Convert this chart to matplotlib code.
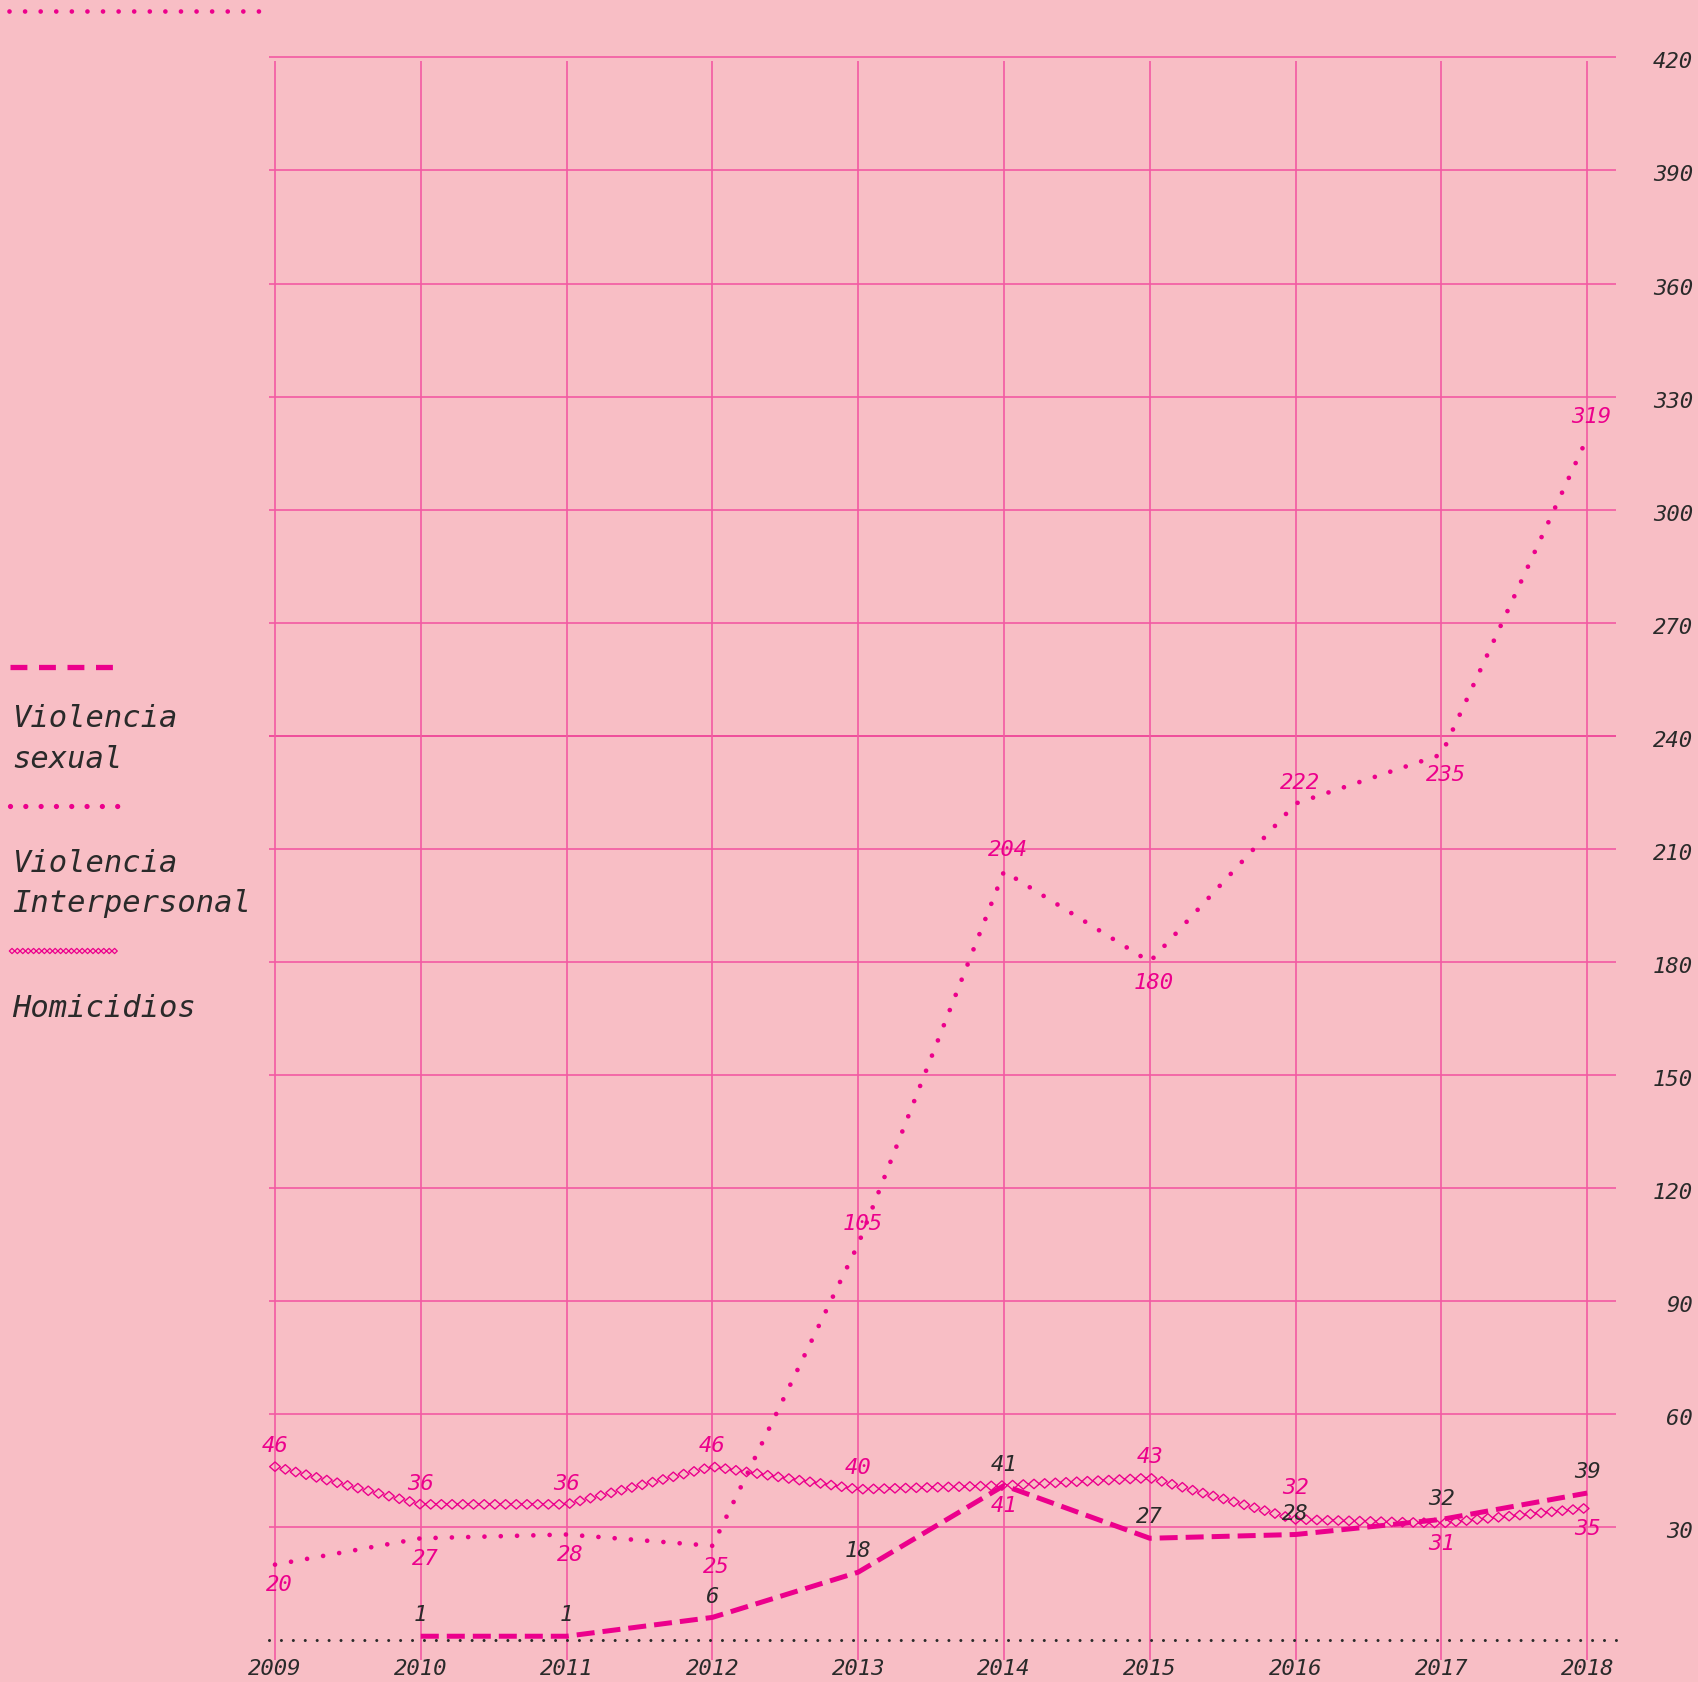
import numpy as np
import matplotlib
matplotlib.use("Agg")
import matplotlib.pyplot as plt
from matplotlib.patheffects import AbstractPathEffect
from matplotlib.path import Path
from matplotlib.transforms import IdentityTransform, blended_transform_factory, ScaledTranslation
from matplotlib.lines import Line2D

# ---------------- data ----------------
years = [2009, 2010, 2011, 2012, 2013, 2014, 2015, 2016, 2017, 2018]
homicidios = [46, 36, 36, 46, 40, 41, 43, 32, 31, 35]
interpersonal = [20, 27, 28, 25, 105, 204, 180, 222, 235, 319]
sexual_years = [2010, 2011, 2012, 2013, 2014, 2015, 2016, 2017, 2018]
sexual = [1, 1, 6, 18, 41, 27, 28, 32, 39]
y_ticks = [30, 60, 90, 120, 150, 180, 210, 240, 270, 300, 330, 360, 390, 420]
legend_labels = [["Violencia", "sexual"], ["Violencia", "Interpersonal"], ["Homicidios"]]

# label placement (sign: above/below, magnitude: distance factor)
hom_pos = [1, 1, 1, 1, 1, -1, 1, 1.5, -1, -1]
int_pos = [-1, -1, -1, -1, 1, 1, -1, 1, -1, 1]
sex_pos = [1, 1, 1, 1, 1, 1, 1, 1, 1]

# ---------------- style ----------------
BG = "#F8BEC5"
MAG = "#EC008C"
GRID = "#F25AA3"
GRID_DARK = "#EE3A94"
DARK = "#2A2A2A"
FONT = dict(family=["DejaVu Sans Mono"], style="italic")

W, H = 1698, 1682
X0, DX = 275.0, 145.8     # px of 2009, px per year
Y0, DY = 1640.0, 3.768    # px of value 0, px per unit


class DiamondChain(AbstractPathEffect):
    def __init__(self, spacing=10.7, half_h=4.7):
        super().__init__()
        self.spacing = spacing
        self.half_h = half_h

    def draw_path(self, renderer, gc, tpath, affine, rgbFace=None):
        v = affine.transform(tpath.vertices)
        seg = np.diff(v, axis=0)
        L = np.hypot(seg[:, 0], seg[:, 1])
        cum = np.concatenate([[0], np.cumsum(L)])
        n = int(cum[-1] // self.spacing)
        d = np.arange(n + 1) * self.spacing
        xs = np.interp(d, cum, v[:, 0])
        ys = np.interp(d, cum, v[:, 1])
        hw = self.spacing / 2.0
        hh = self.half_h
        verts, codes = [], []
        for x, y in zip(xs, ys):
            verts += [(x - hw, y), (x, y + hh), (x + hw, y), (x, y - hh), (x - hw, y)]
            codes += [Path.MOVETO, Path.LINETO, Path.LINETO, Path.LINETO, Path.CLOSEPOLY]
        renderer.draw_path(gc, Path(verts, codes), IdentityTransform())


fig = plt.figure(figsize=(W / 100, H / 100), dpi=100)
fig.patch.set_facecolor(BG)
ax = fig.add_axes([0, 0, 1, 1])
ax.set_facecolor(BG)
ax.axis("off")
ax.set_xlim(2009 - X0 / DX, 2009 + (W - X0) / DX)
ax.set_ylim((Y0 - H) / DY, Y0 / DY)

gx0 = 2009 + (268.6 - X0) / DX
gx1 = 2009 + (1615.7 - X0) / DX

# grid
grid_colors = [GRID_DARK if t == 240 else GRID for t in y_ticks]
ax.hlines(y_ticks, gx0, gx1, colors=grid_colors, lw=1.2, zorder=1)
ax.vlines(years, (Y0 - 1660) / DY, (Y0 - 61) / DY, color=GRID, lw=1.2, zorder=1)

# baseline (dotted, dark) at zero
ax.axhline(0, xmin=268.6 / W, xmax=1615.7 / W, color=DARK, lw=2.2,
           linestyle=(0, (0.001, 3.9)), dash_capstyle="round", zorder=2)

# series
hl, = ax.plot(years, homicidios, color=MAG, lw=1.0, zorder=3)
hl.set_path_effects([DiamondChain()])
ax.plot(years, interpersonal, color=MAG, lw=3.4, linestyle=(0, (0.001, 3.45)),
        dash_capstyle="round", zorder=4)
ax.plot(sexual_years, sexual, color=MAG, lw=3.6, linestyle=(0, (3.6, 1.6)),
        dash_capstyle="butt", zorder=5)

# value labels
OFF = 15
for x, v, p in zip(years, homicidios, hom_pos):
    ax.annotate(str(v), (x, v), xytext=(0, OFF * p), textcoords="offset points",
                ha="center", va="center", color=MAG, fontsize=16, zorder=6, **FONT)
for x, v, p in zip(years, interpersonal, int_pos):
    ax.annotate(str(v), (x, v), xytext=(3, OFF * p), textcoords="offset points",
                ha="center", va="center", color=MAG, fontsize=16, zorder=6, **FONT)
for x, v, p in zip(sexual_years, sexual, sex_pos):
    ax.annotate(str(v), (x, v), xytext=(0, OFF * p), textcoords="offset points",
                ha="center", va="center", color=DARK, fontsize=16, zorder=6, **FONT)

# y tick labels (right side)
ytr = blended_transform_factory(fig.transFigure, ax.transData) + \
    ScaledTranslation(0, -5 / 100, fig.dpi_scale_trans)
for t in y_ticks:
    ax.text(1693 / W, t, str(t), transform=ytr, ha="right", va="center",
            color=DARK, fontsize=16, **FONT)

# x tick labels
xtr = blended_transform_factory(ax.transData, fig.transFigure)
for y in years:
    ax.text(y, 1 - 1669 / H, str(y), transform=xtr, ha="center", va="center",
            color=DARK, fontsize=16, **FONT)

# legend (left)
def fx(px):
    return px / W

def fy(py):
    return 1 - py / H

fig.add_artist(Line2D([fx(9), fx(263)], [fy(11), fy(11)], color=MAG, lw=3.4,
                      linestyle=(0, (0.001, 3.3)), dash_capstyle="round"))
fig.add_artist(Line2D([fx(10), fx(117)], [fy(667), fy(667)], color=MAG, lw=3.8,
                      linestyle=(0, (3.2, 2.2)), dash_capstyle="butt"))
fig.add_artist(Line2D([fx(10), fx(120)], [fy(806), fy(806)], color=MAG, lw=3.8,
                      linestyle=(0, (0.001, 2.9)), dash_capstyle="round"))
dl = Line2D([fx(12), fx(116)], [fy(951), fy(951)], color=MAG, lw=0.9)
dl.set_path_effects([DiamondChain(spacing=5.4, half_h=2.6)])
fig.add_artist(dl)

baselines = [[727, 768], [872, 912], [1017]]
for lines, bls in zip(legend_labels, baselines):
    for txt, b in zip(lines, bls):
        fig.text(fx(12), fy(b), txt, ha="left", va="baseline", color=DARK,
                 fontsize=22, **FONT)

fig.savefig("out.png", dpi=100, facecolor=BG)
